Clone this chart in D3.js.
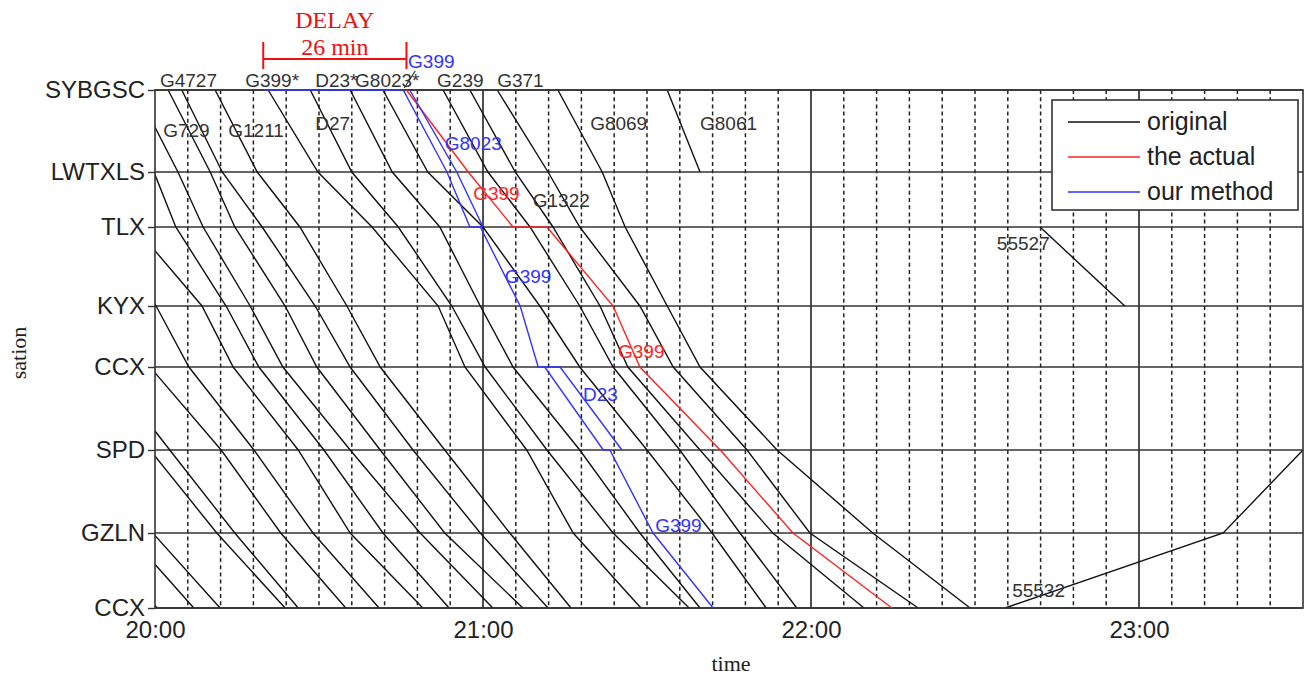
<!DOCTYPE html>
<html><head><meta charset="utf-8">
<script src="https://cdn.jsdelivr.net/npm/d3@7"></script>
<style>body{margin:0;background:#fff}svg{display:block}</style>
</head><body><svg id="chart" width="1307" height="678"></svg>
<script>
// Stations along the line, top to bottom, with their mileage (km)
const stations = ["SYBGSC", "LWTXLS", "TLX", "KYX", "CCX", "SPD", "GZLN", "CCX"];
const stationKm = [0, 82, 137, 216, 277, 360, 443, 518];
const timeTickMinutes = [0, 60, 120, 180];
const timeTickLabels = ["20:00", "21:00", "22:00", "23:00"];

// Planned timetable: passing time at each station, minutes after 20:00 (null = not run)
const originalTrains = [
  [-63.1, -55.4, -50.9, -41.7, -35.7, -23.8, -11.9, 0.4],
  [-56.3, -48.7, -44.1, -34.9, -28.9, -17.0, -5.1, 7.1],
  [-51.6, -43.9, -39.3, -30.2, -24.1, -12.3, -0.4, 11.9],
  [-40.2, -32.6, -28.0, -18.8, -12.8, -0.9, 11.3, 23.8],
  [-36.6, -28.9, -24.3, -15.2, -9.1, 2.7, 14.6, 26.2],
  [-29.1, -21.4, -16.8, -7.0, -0.9, 12.1, 23.0, 34.9],
  [-20.7, -13.0, -8.4, 0.2, 6.2, 18.1, 28.9, 41.0],
  [-15.9, -8.2, -3.7, 8.6, 14.3, 26.2, 35.7, 49.0],
  [-7.9, -0.2, 3.8, 13.0, 19.0, 30.9, 41.7, 53.8],
  [-3.5, 4.2, 8.8, 17.4, 23.4, 35.7, 48.5, 61.8],
  [2.4, 10.1, 14.6, 23.8, 29.6, 41.2, 53.0, 67.3],
  [4.9, 12.3, 19.6, 29.3, 35.7, 47.2, 59.5, 71.9],
  [11.0, 18.7, 26.5, 35.1, 41.2, 53.0, 64.9, 76.1],
  [20.7, 29.8, 39.7, 51.8, 56.7, 68.0, 76.5, 88.9],
  [28.4, 36.0, 44.5, 54.3, 60.4, 71.7, 83.8, 97.7],
  [35.7, 43.4, 52.1, 59.5, 65.5, 77.7, 88.7, 99.7],
  [41.7, 49.9, 60.0, 70.4, 77.7, 90.0, 101.9, 111.8],
  [52.7, 60.9, 68.6, 77.7, 83.8, 96.0, 107.0, 117.4],
  [57.6, 65.9, 72.8, 81.4, 86.5, 99.7, 113.0, 129.7],
  [62.6, 71.9, 77.7, 88.7, 94.8, 108.3, 119.8, 139.6],
  [73.7, 81.8, 86.0, 93.7, 99.7, 113.8, 131.3, 149.1],
  [93.7, 99.7, null, null, null, null, null, null],
  [null, null, 161.9, 177.4, null, null, null, null],
  [null, null, null, null, null, 210.0, 195.4, 155.5]
];

// G399 as it actually ran: [station index, minutes after 20:00]
const actualG399 = [[0, 46.0], [1, 57.3], [2, 65.5], [2, 71.7], [3, 83.8], [4, 88.7], [5, 103.4], [6, 116.7], [7, 134.8]];

// Rescheduled trains from our method
const methodG399 = [[0, 19.8], [0, 45.4], [1, 53.4], [2, 57.6], [2, 59.5], [3, 66.8], [4, 70.1], [4, 71.3], [5, 82.0], [5, 83.2], [6, 91.1], [7, 102.1]];
const methodG8023 = [[0, 46.6], [1, 55.2], [2, 60.0]];
const methodD23 = [[4, 71.3], [4, 74.1], [5, 85.4]];

// Train numbers: [text, minutes, km, colour]
const trainLabels = [
  ["G4727", 0.9, -3, "#333"], ["G399*", 16.5, -3, "#333"], ["D23*", 29.3, -3, "#333"],
  ["G8023*", 36.6, -3, "#333"], ["G239", 51.6, -3, "#333"], ["G371", 62.6, -3, "#333"],
  ["G399", 46.3, -22, "#3333ff"],
  ["G729", 1.5, 47, "#333"], ["G1211", 13.4, 47, "#333"], ["D27", 29.3, 40, "#333"],
  ["G8069", 79.6, 40, "#333"], ["G8061", 99.7, 40, "#333"],
  ["G8023", 53.0, 60, "#3333ff"], ["G399", 58.2, 110, "#ff2222"], ["G1322", 69.1, 117, "#333"],
  ["55527", 154.0, 160, "#333"], ["G399", 64.0, 193, "#3333ff"], ["G399", 84.7, 268, "#ff2222"],
  ["D23", 78.3, 311, "#3333ff"], ["G399", 91.5, 442, "#3333ff"], ["55532", 156.8, 507, "#333"]
];

const legendItems = [["original", "#111"], ["the actual", "#ff2222"], ["our method", "#3333ff"]];
const delayMinutes = [19.8, 46.0];

const svg = d3.select("#chart");
const pLeft = 155, pRight = 1303, pTop = 90, pBottom = 608;
const x = d3.scaleLinear().domain([0, 210]).range([pLeft, pRight]);
const y = d3.scaleLinear().domain([0, 518]).range([pTop, pBottom]);
const sans = "'Liberation Sans', Arial, sans-serif";
const serif = "'Liberation Serif', 'Times New Roman', serif";

svg.append("rect").attr("width", 1307).attr("height", 678).attr("fill", "#fff");

svg.append("defs").append("clipPath").attr("id", "plot")
  .append("rect").attr("x", pLeft).attr("y", pTop - 1).attr("width", pRight - pLeft).attr("height", pBottom - pTop + 2);

// Vertical time grid: every 6 minutes, solid on the hour
const grid = svg.append("g");
grid.selectAll("line.v").data(d3.range(6, 210, 6)).join("line")
  .attr("x1", d => x(d)).attr("x2", d => x(d)).attr("y1", pTop).attr("y2", pBottom)
  .attr("stroke", "#222").attr("stroke-width", d => d % 60 === 0 ? 1.6 : 1.5)
  .attr("stroke-dasharray", d => d % 60 === 0 ? null : "4,3.2");
// Station lines
grid.selectAll("line.h").data(stationKm).join("line")
  .attr("x1", pLeft).attr("x2", pRight).attr("y1", d => y(d)).attr("y2", d => y(d))
  .attr("stroke", "#333").attr("stroke-width", 1.6);

const line = d3.line().defined(d => d[1] != null).x(d => x(d[1])).y(d => y(stationKm[d[0]]));

const trains = svg.append("g").attr("clip-path", "url(#plot)");
trains.selectAll("path.orig").data(originalTrains).join("path")
  .attr("d", t => line(t.map((v, i) => [i, v])))
  .attr("fill", "none").attr("stroke", "#111").attr("stroke-width", 1.4);

// Frame
svg.append("rect").attr("x", pLeft).attr("y", pTop).attr("width", pRight - pLeft).attr("height", pBottom - pTop)
  .attr("fill", "none").attr("stroke", "#333").attr("stroke-width", 1.6);

// Actual and rescheduled paths sit above the frame
const coloured = svg.append("g").attr("clip-path", "url(#plot)");
const drawPath = (pts, colour) => coloured.append("path").attr("d", line(pts))
  .attr("fill", "none").attr("stroke", colour).attr("stroke-width", 1.4);
drawPath(actualG399, "#ff2222");
drawPath(methodG399, "#3333ff");
drawPath(methodG8023, "#3333ff");
drawPath(methodD23, "#3333ff");

// Axes
const yAxis = d3.axisLeft(y).tickValues(stationKm).tickFormat((d, i) => stations[i]).tickSize(7).tickPadding(3);
const gy = svg.append("g").attr("transform", `translate(${pLeft},0)`).call(yAxis);
gy.select(".domain").remove();
gy.selectAll("line").attr("stroke", "#333").attr("stroke-width", 1.4);
gy.selectAll("text").attr("font-family", sans).attr("font-size", 24).attr("fill", "#222");

const xAxis = d3.axisBottom(x).tickValues(timeTickMinutes).tickFormat((d, i) => timeTickLabels[i]).tickSize(0).tickPadding(13);
const gx = svg.append("g").attr("transform", `translate(0,${pBottom})`).call(xAxis);
gx.select(".domain").remove();
gx.selectAll("text").attr("font-family", sans).attr("font-size", 24).attr("fill", "#222");

svg.append("text").attr("transform", `translate(26,353) rotate(-90)`).attr("text-anchor", "middle")
  .attr("font-family", serif).attr("font-size", 22).attr("fill", "#222").text("sation");
svg.append("text").attr("x", 731).attr("y", 671).attr("text-anchor", "middle")
  .attr("font-family", serif).attr("font-size", 22).attr("fill", "#222").text("time");

// Train numbers
svg.append("g").selectAll("text").data(trainLabels).join("text")
  .attr("x", d => x(d[1])).attr("y", d => y(d[2]))
  .attr("font-family", sans).attr("font-size", 19).attr("fill", d => d[3]).text(d => d[0]);
svg.append("line").attr("x1", x(47.6)).attr("y1", y(-19)).attr("x2", x(45.6)).attr("y2", y(-2))
  .attr("stroke", "#333").attr("stroke-width", 1.2);

// Delay bracket
const red = "#ee1111";
const d0 = x(delayMinutes[0]), d1 = x(delayMinutes[1]);
const ann = svg.append("g").attr("stroke", red).attr("stroke-width", 2);
ann.append("line").attr("x1", d0).attr("x2", d1).attr("y1", 59).attr("y2", 59);
ann.append("line").attr("x1", d0).attr("x2", d0).attr("y1", 42).attr("y2", 69);
ann.append("line").attr("x1", d1).attr("x2", d1).attr("y1", 42).attr("y2", 69);
svg.append("text").attr("x", (d0 + d1) / 2).attr("y", 28).attr("text-anchor", "middle")
  .attr("font-family", serif).attr("font-size", 24).attr("fill", red).text("DELAY");
svg.append("text").attr("x", (d0 + d1) / 2).attr("y", 55).attr("text-anchor", "middle")
  .attr("font-family", serif).attr("font-size", 24).attr("fill", red)
  .text(`${Math.round(delayMinutes[1] - delayMinutes[0])} min`);

// Legend
const lg = svg.append("g").attr("transform", "translate(1052,100)");
lg.append("rect").attr("width", 246).attr("height", 110).attr("fill", "#fff").attr("stroke", "#333").attr("stroke-width", 1.6);
lg.selectAll("g").data(legendItems).join("g").attr("transform", (d, i) => `translate(0,${22 + i * 35})`)
  .each(function (d) {
    const g = d3.select(this);
    g.append("line").attr("x1", 16).attr("x2", 88).attr("stroke", d[1]).attr("stroke-width", 1.5);
    g.append("text").attr("x", 95).attr("y", 8).attr("font-family", sans).attr("font-size", 25)
      .attr("fill", "#222").text(d[0]);
  });
</script></body></html>
